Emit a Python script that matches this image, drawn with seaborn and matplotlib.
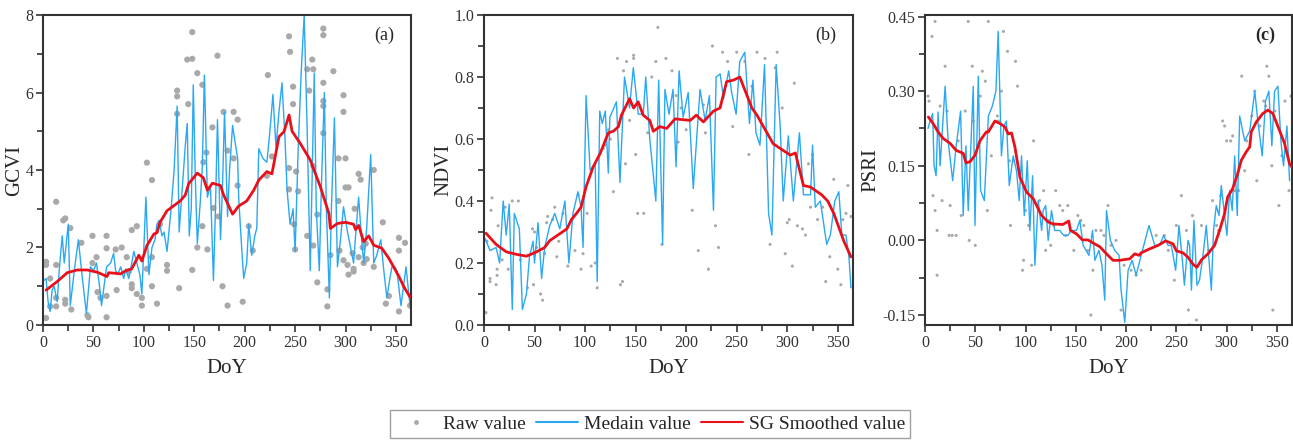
import pandas as pd
import matplotlib
matplotlib.use('Agg')
import matplotlib.pyplot as plt
from matplotlib.ticker import MultipleLocator, FormatStrFormatter
from matplotlib.lines import Line2D
import seaborn as sns

# ---- (a) GCVI ----
gcvi_raw = [(3, 1.63), (3, 1.55), (3, 0.18), (7, 0.48), (7, 1.2), (13, 3.18), (13, 1.55), (13, 0.7),
            (13, 0.48), (20, 2.7), (22, 2.75), (22, 0.65), (22, 0.55), (27, 2.5), (28, 0.4), (38, 2.12),
            (44, 0.25), (45, 0.2), (49, 2.3), (49, 1.6), (53, 1.75), (54, 0.85), (57, 0.7), (63, 2.3),
            (63, 1.98), (63, 0.75), (63, 0.2), (72, 1.95), (73, 0.9), (78, 2.0), (83, 1.75), (85, 1.38),
            (88, 2.45), (88, 1.05), (88, 0.95), (93, 2.55), (93, 0.8), (98, 0.7), (98, 0.5), (103, 4.19),
            (103, 1.45), (108, 3.74), (108, 1.75), (108, 1.0), (113, 0.55), (116, 2.6), (123, 1.55),
            (123, 1.4), (133, 6.05), (133, 5.9), (133, 5.45), (135, 0.95), (143, 6.85), (144, 5.7),
            (148, 7.56), (148, 6.87), (148, 1.42), (153, 6.5), (153, 2.0), (158, 6.2), (158, 2.55),
            (159, 4.2), (162, 4.45), (163, 1.95), (168, 5.1), (169, 3.02), (173, 6.95), (174, 2.8),
            (178, 1.0), (179, 5.5), (183, 4.5), (183, 0.5), (189, 5.5), (189, 4.3), (193, 5.3), (193, 3.6),
            (198, 0.6), (204, 2.55), (208, 1.92), (222, 3.85), (223, 6.45), (227, 4.35), (244, 7.45),
            (245, 7.05), (244, 4.05), (244, 3.5), (248, 5.7), (248, 6.15), (249, 2.6), (250, 1.95),
            (251, 3.96), (253, 3.45), (262, 6.6), (262, 2.3), (264, 6.05), (267, 6.85), (268, 6.6),
            (268, 4.1), (268, 2.05), (272, 1.1), (272, 2.85), (278, 7.65), (278, 7.48), (278, 6.25),
            (278, 5.78), (278, 5.65), (278, 4.95), (282, 0.48), (282, 0.92), (285, 1.8), (288, 6.55),
            (293, 4.3), (293, 3.2), (294, 1.92), (298, 5.93), (298, 5.5), (298, 1.67), (300, 4.3),
            (300, 3.55), (302, 1.55), (303, 1.3), (303, 3.55), (307, 1.85), (308, 1.45), (308, 1.38),
            (309, 3.0), (313, 3.9), (313, 1.75), (315, 3.75), (317, 2.0), (318, 1.6), (320, 2.1),
            (321, 1.7), (328, 4.0), (328, 1.5), (337, 2.65), (340, 0.55), (343, 0.75), (353, 2.25),
            (353, 1.92), (353, 0.35), (359, 2.12), (364, 0.5)]
gcvi_median = [(1, 1.15), (3, 1.2), (5, 0.6), (7, 0.35), (9, 0.9), (11, 1.0), (14, 0.6), (16, 1.4),
               (19, 2.3), (21, 1.6), (23, 2.1), (25, 2.6), (27, 0.5), (31, 1.4), (35, 2.2), (39, 1.2),
               (43, 0.3), (47, 1.5), (50, 1.4), (53, 1.6), (56, 1.0), (58, 0.5), (61, 1.1), (63, 1.5),
               (67, 1.6), (70, 1.85), (72, 1.4), (74, 1.3), (77, 1.5), (80, 1.2), (82, 1.45), (85, 1.2),
               (88, 1.6), (90, 1.9), (93, 1.6), (96, 1.3), (98, 0.8), (100, 2.0), (102, 3.3), (105, 1.3),
               (108, 2.0), (111, 2.2), (113, 2.6), (115, 2.7), (118, 2.3), (120, 2.4), (123, 1.9),
               (127, 3.0), (130, 4.0), (133, 5.65), (135, 2.4), (138, 3.5), (141, 4.6), (143, 5.2),
               (145, 2.3), (147, 3.0), (149, 6.2), (151, 3.8), (153, 2.1), (156, 3.2), (158, 4.1),
               (160, 6.45), (163, 3.3), (166, 3.6), (169, 1.15), (171, 3.0), (173, 5.3), (176, 2.2),
               (178, 3.6), (180, 5.5), (183, 2.8), (185, 4.0), (188, 5.15), (190, 4.8), (193, 4.3),
               (194, 3.3), (197, 2.0), (199, 1.2), (202, 1.6), (204, 2.6), (207, 1.8), (210, 2.3),
               (212, 2.5), (214, 4.55), (218, 4.3), (222, 4.2), (225, 5.0), (228, 5.95), (231, 4.6),
               (234, 5.5), (237, 6.25), (240, 4.8), (242, 3.5), (245, 2.6), (248, 3.0), (250, 1.9),
               (253, 4.5), (256, 6.5), (259, 8.0), (262, 5.0), (265, 1.4), (267, 4.0), (269, 6.5),
               (271, 3.0), (274, 1.4), (276, 3.5), (279, 6.0), (281, 3.0), (284, 0.7), (286, 3.0),
               (289, 5.35), (292, 1.5), (295, 2.2), (298, 3.05), (302, 2.4), (305, 2.0), (308, 1.6),
               (310, 2.3), (313, 3.3), (316, 2.2), (318, 1.6), (321, 2.5), (325, 4.4), (328, 1.6),
               (331, 1.8), (335, 2.2), (338, 1.4), (341, 0.7), (344, 1.2), (346, 1.5), (349, 1.5),
               (351, 1.4), (355, 0.5), (357, 0.9), (360, 1.5), (362, 1.0), (364, 0.5)]
gcvi_sg = [(3, 0.90), (14, 1.12), (24, 1.35), (34, 1.42), (44, 1.42), (54, 1.36), (63.5, 1.25), (65, 1.35),
           (77, 1.32), (82, 1.40), (88, 1.45), (95, 1.80), (98, 1.65), (103, 2.05), (110, 2.35), (113, 2.38),
           (116, 2.65), (123, 2.95), (136, 3.2), (141, 3.35), (144.5, 3.65), (153, 3.92), (159, 3.8),
           (163, 3.48), (168, 3.66), (176, 3.6), (179, 3.36), (188, 2.86), (194, 3.07), (202, 3.2),
           (209, 3.48), (214, 3.74), (222, 3.96), (227, 3.90), (234, 4.86), (239, 4.99), (244, 5.42),
           (247, 5.00), (255, 4.69), (265, 4.26), (275, 3.57), (283.5, 2.88), (285, 2.49), (292, 2.62),
           (300, 2.65), (308, 2.60), (310, 2.46), (313, 2.57), (318, 2.15), (323, 2.30), (328, 2.06),
           (336, 1.98), (343, 1.72), (353, 1.25), (358, 0.98), (364, 0.72)]

# ---- (b) NDVI ----
ndvi_raw = [(2, 0.04), (3, 0.27), (6, 0.14), (6, 0.15), (7, 0.37), (8, 0.41), (12, 0.13), (13, 0.16),
            (13, 0.18), (14, 0.32), (18, 0.21), (21, 0.38), (24, 0.18), (28, 0.40), (34, 0.40), (36, 0.21),
            (43, 0.12), (48, 0.31), (49, 0.13), (50, 0.30), (52, 0.25), (56, 0.10), (58, 0.08), (60, 0.23),
            (62, 0.33), (63, 0.35), (68, 0.34), (70, 0.38), (72, 0.22), (74, 0.27), (78, 0.36), (83, 0.19),
            (87, 0.34), (90, 0.24), (93, 0.42), (96, 0.18), (98, 0.23), (102, 0.36), (106, 0.19),
            (110, 0.20), (112, 0.12), (118, 0.57), (120, 0.58), (123, 0.63), (125, 0.60), (128, 0.43),
            (132, 0.86), (135, 0.13), (137, 0.14), (138, 0.82), (140, 0.52), (141, 0.85), (144, 0.66),
            (148, 0.87), (148, 0.86), (150, 0.55), (152, 0.36), (158, 0.36), (162, 0.62), (166, 0.80),
            (170, 0.85), (172, 0.96), (176, 0.26), (180, 0.86), (186, 0.82), (190, 0.74), (192, 0.59),
            (195, 0.70), (200, 0.63), (206, 0.37), (212, 0.24), (217, 0.71), (219, 0.62), (222, 0.18),
            (226, 0.90), (229, 0.32), (232, 0.25), (236, 0.88), (241, 0.85), (246, 0.64), (250, 0.88),
            (258, 0.85), (262, 0.55), (265, 0.77), (270, 0.88), (278, 0.86), (283, 0.26), (288, 0.83),
            (290, 0.88), (295, 0.70), (298, 0.23), (300, 0.33), (302, 0.34), (305, 0.19), (307, 0.78),
            (310, 0.32), (315, 0.31), (318, 0.29), (321, 0.52), (323, 0.38), (325, 0.55), (330, 0.34),
            (335, 0.38), (338, 0.14), (342, 0.22), (346, 0.47), (350, 0.18), (353, 0.13), (355, 0.34),
            (358, 0.36), (360, 0.45), (362, 0.22), (363, 0.35)]
ndvi_median = [(1, 0.28), (6, 0.24), (12, 0.25), (15.5, 0.20), (19, 0.40), (22, 0.29), (25, 0.39), (28, 0.05),
               (30, 0.36), (35, 0.31), (38, 0.05), (42, 0.10), (45, 0.22), (48.5, 0.27), (50, 0.20),
               (53.5, 0.33), (57, 0.15), (60, 0.25), (65, 0.32), (70, 0.36), (75, 0.31), (80, 0.40),
               (84, 0.20), (88, 0.36), (93, 0.43), (96, 0.38), (98, 0.25), (101, 0.74), (105, 0.50),
               (110, 0.52), (112, 0.14), (114.5, 0.69), (117, 0.65), (120, 0.69), (123, 0.49), (124.5, 0.67),
               (131, 0.72), (134.5, 0.46), (139, 0.80), (144, 0.70), (147.7, 0.83), (152.6, 0.68),
               (157.6, 0.68), (160, 0.80), (164, 0.60), (170, 0.40), (172.8, 0.79), (176.7, 0.26),
               (179, 0.76), (183, 0.68), (187, 0.76), (190, 0.51), (193, 0.82), (197, 0.67), (202, 0.75),
               (207, 0.44), (213.7, 0.76), (218.7, 0.66), (223, 0.74), (227, 0.37), (229.6, 0.80),
               (233.6, 0.81), (237, 0.73), (242, 0.82), (245, 0.75), (249.4, 0.68), (253, 0.85), (258, 0.88),
               (262.6, 0.65), (266, 0.79), (269, 0.62), (273, 0.58), (277.5, 0.84), (281.5, 0.36),
               (284.8, 0.29), (289, 0.84), (293, 0.64), (296, 0.40), (301, 0.61), (306, 0.40), (312, 0.62),
               (316, 0.42), (323, 0.42), (325, 0.58), (327.7, 0.38), (332.7, 0.40), (339, 0.26),
               (342.6, 0.29), (347, 0.40), (351, 0.43), (354, 0.29), (358, 0.29), (361, 0.22), (363, 0.12)]
ndvi_sg = [(2, 0.296), (12, 0.26), (22, 0.236), (32, 0.228), (42, 0.222), (45, 0.226), (52, 0.236), (60, 0.25),
           (65, 0.272), (73, 0.29), (82, 0.31), (86.5, 0.34), (91.5, 0.36), (96, 0.38), (101, 0.446),
           (108, 0.51), (115, 0.554), (123, 0.62), (128, 0.625), (133, 0.64), (136, 0.677), (144, 0.73),
           (148, 0.70), (152.5, 0.72), (157.5, 0.677), (164, 0.66), (167.5, 0.625), (174, 0.64),
           (180.7, 0.634), (189, 0.665), (204, 0.66), (210, 0.677), (217, 0.655), (227, 0.69),
           (233.5, 0.70), (240, 0.785), (246.8, 0.79), (253, 0.80), (265, 0.70), (270, 0.677),
           (286, 0.585), (296, 0.563), (303, 0.548), (308, 0.555), (316, 0.45), (323, 0.445),
           (334, 0.42), (340, 0.40), (346, 0.36), (356, 0.27), (363, 0.22)]

# ---- (c) PSRI ----
psri_raw = [(3, 0.29), (4, 0.28), (7, 0.41), (8, 0.09), (10, 0.44), (10, 0.06), (12, 0.02), (12, -0.07),
            (15, 0.27), (17, 0.08), (20, 0.35), (22, 0.26), (24, 0.01), (25, 0.07), (27, 0.01), (31, 0.01),
            (33, 0.20), (36, 0.05), (40, 0.26), (43, 0.44), (44, 0.00), (47, 0.35), (48, 0.24), (50, -0.01),
            (55, 0.29), (57, 0.34), (60, 0.32), (62, 0.06), (63, 0.44), (66, 0.17), (72, 0.25), (73, 0.24),
            (76, 0.30), (78, 0.42), (82, 0.38), (84, 0.16), (85, 0.03), (88, 0.16), (90, 0.36), (92, 0.31),
            (97, -0.06), (98, -0.04), (100, 0.06), (103, 0.03), (106, -0.05), (108, 0.20), (114, 0.08),
            (118, 0.10), (120, -0.02), (123, 0.04), (125, -0.01), (128, 0.03), (130, 0.10), (134, 0.07),
            (137, 0.06), (140, 0.01), (142, 0.07), (145, 0.02), (148, -0.02), (152, 0.05), (155, 0.04),
            (158, 0.03), (162, -0.02), (165, -0.15), (167, -0.06), (170, 0.02), (175, 0.02), (178, 0.01),
            (182, 0.07), (185, -0.01), (190, 0.0), (195, -0.14), (198, -0.05), (205, -0.06), (210, -0.07),
            (215, -0.06), (230, 0.01), (238, 0.01), (242, -0.02), (248, -0.08), (250, 0.03), (255, 0.09),
            (260, 0.02), (262, -0.14), (263, -0.17), (266, 0.05), (270, -0.16), (275, 0.03), (282, -0.02),
            (286, 0.08), (290, 0.03), (292, 0.02), (294, 0.09), (296, 0.24), (298, 0.23), (300, 0.20),
            (304, 0.20), (306, 0.21), (308, 0.10), (312, 0.10), (315, 0.33), (318, 0.14), (320, 0.20),
            (325, 0.25), (328, 0.30), (330, 0.12), (333, 0.23), (337, 0.28), (339, 0.27), (340, 0.35),
            (342, 0.33), (345, 0.15), (346, -0.14), (348, 0.26), (352, 0.07), (355, 0.17), (358, 0.28),
            (362, 0.10), (364, 0.29)]
psri_median = [(3, 0.225), (5, 0.24), (7.6, 0.255), (9, 0.15), (11, 0.13), (13, 0.258), (15, 0.15), (20, 0.31),
               (23, 0.20), (27.5, 0.12), (31, 0.19), (35.4, 0.26), (38, 0.05), (40.7, 0.19), (43, 0.06),
               (48, 0.31), (49.7, 0.03), (53, 0.33), (55.3, 0.10), (59, 0.08), (63, 0.25), (67, 0.27),
               (70.5, 0.30), (72.8, 0.42), (76, 0.17), (78.5, 0.23), (81, 0.24), (83.8, 0.11), (87.7, 0.17),
               (91, 0.14), (93.7, 0.08), (96, 0.17), (98.7, 0.05), (101.7, 0.16), (104.3, 0.02), (107, 0.13),
               (109.3, -0.05), (112.6, 0.08), (116, 0.02), (117.5, 0.06), (120, 0.07), (122.5, 0.0),
               (125.8, 0.06), (129, 0.02), (134, 0.02), (138, 0.01), (142, 0.01), (145.7, 0.02),
               (150.7, 0.02), (154, 0.04), (157.3, -0.01), (163, -0.03), (166.6, 0.02), (169, -0.04),
               (173, -0.02), (176, -0.05), (178.8, -0.12), (180.5, 0.06), (184.4, 0.0), (188.7, -0.02),
               (193, -0.03), (195, -0.10), (198.7, -0.165), (202, -0.06), (206, -0.04), (210, -0.07),
               (215, -0.03), (222.8, 0.03), (228.5, -0.01), (233.4, -0.01), (237.4, 0.01), (241.7, -0.01),
               (245, -0.01), (249.3, -0.06), (252.6, 0.03), (256, -0.04), (258, -0.09), (261.6, 0.0),
               (263.2, -0.01), (265, -0.10), (267.5, 0.04), (270.5, -0.09), (273, -0.08), (276.5, -0.03),
               (279.8, 0.03), (284.8, -0.10), (287, 0.02), (289.7, 0.07), (292.4, 0.05), (294.7, 0.11),
               (298, 0.05), (300.3, 0.01), (303, 0.10), (305.6, 0.06), (308, 0.17), (310.6, 0.05),
               (313, 0.25), (318, 0.20), (323, 0.22), (328, 0.30), (331, 0.24), (335.4, 0.17), (338.7, 0.28),
               (342, 0.30), (345, 0.19), (347.7, 0.30), (351, 0.31), (354, 0.20), (356.6, 0.15), (360, 0.23),
               (362.6, 0.12)]
psri_sg = [(3.3, 0.248), (8, 0.235), (13, 0.218), (18, 0.205), (25, 0.195), (31, 0.181), (38, 0.175),
           (40.7, 0.156), (44.7, 0.158), (49.7, 0.171), (54.6, 0.20), (61, 0.218), (63, 0.218), (69.5, 0.24),
           (74.5, 0.235), (79.5, 0.228), (82.8, 0.214), (86, 0.216), (89.4, 0.188), (94.4, 0.127),
           (101, 0.097), (107.6, 0.084), (116, 0.05), (122.5, 0.037), (127.5, 0.033), (137, 0.032),
           (143, 0.039), (144.7, 0.020), (150.7, 0.013), (156.6, 0.001), (162, 0.001), (167, -0.005),
           (174, -0.013), (180.5, -0.027), (187, -0.040), (193.7, -0.040), (203.6, -0.037), (208.6, -0.027),
           (213, -0.03), (215, -0.025), (223.5, -0.017), (231.8, -0.01), (239.4, -0.001), (246.7, -0.007),
           (250, -0.021), (256.6, -0.025), (261.6, -0.034), (266.6, -0.048), (270.5, -0.054),
           (275, -0.039), (281.5, -0.027), (288, -0.010), (293, 0.020), (298, 0.054), (301, 0.087),
           (306, 0.104), (311, 0.134), (314.6, 0.161), (319.5, 0.178), (323, 0.188), (324.5, 0.218),
           (329.5, 0.238), (336, 0.255), (341, 0.262), (346, 0.255), (352.6, 0.221), (357.6, 0.195),
           (362.6, 0.154), (365, 0.147)]

raw_color = '#a9a9a9'
med_color = '#2aa8f2'
sg_color = '#e8111a'

sns.set_theme(style='ticks')
plt.rcParams['font.family'] = ['Liberation Serif', 'DejaVu Serif']

fig = plt.figure(figsize=(12.93, 4.43), dpi=100)

panels = [
    dict(rect=[0.0333, 0.2664, 0.2846, 0.6997], raw=gcvi_raw, med=gcvi_median, sg=gcvi_sg,
         ylabel='GCVI', tag='(a)', ylim=(0, 8), major=2, minor=1, fmt='%d', dot=20),
    dict(rect=[0.3743, 0.2664, 0.2854, 0.6997], raw=ndvi_raw, med=ndvi_median, sg=ndvi_sg,
         ylabel='NDVI', tag='(b)', ylim=(0, 1), major=0.2, minor=0.1, fmt='%.1f', dot=5),
    dict(rect=[0.7154, 0.2664, 0.2838, 0.6997], raw=psri_raw, med=psri_median, sg=psri_sg,
         ylabel='PSRI', tag='(c)', ylim=(-0.17, 0.453), major=0.15, minor=0.075, fmt='%.2f', dot=5),
]

for p in panels:
    ax = fig.add_axes(p['rect'])
    raw = pd.DataFrame(p['raw'], columns=['DoY', 'value'])
    med = pd.DataFrame(p['med'], columns=['DoY', 'value'])
    sg = pd.DataFrame(p['sg'], columns=['DoY', 'value'])
    sns.scatterplot(data=raw, x='DoY', y='value', ax=ax, color=raw_color, s=p['dot'],
                    edgecolor='none', legend=False, zorder=1)
    sns.lineplot(data=med, x='DoY', y='value', ax=ax, color=med_color, lw=1.0,
                 estimator=None, legend=False, zorder=2)
    sns.lineplot(data=sg, x='DoY', y='value', ax=ax, color=sg_color, lw=2.0,
                 estimator=None, legend=False, zorder=3)
    ax.set_xlim(0, 365)
    ax.set_ylim(*p['ylim'])
    if p['tag'] == '(c)':
        ax.set_yticks([-0.15, 0.0, 0.15, 0.30, 0.45])
        ax.yaxis.set_minor_locator(MultipleLocator(0.075))
    else:
        ax.yaxis.set_major_locator(MultipleLocator(p['major']))
        ax.yaxis.set_minor_locator(MultipleLocator(p['minor']))
    ax.yaxis.set_major_formatter(FormatStrFormatter(p['fmt']))
    ax.xaxis.set_major_locator(MultipleLocator(50))
    ax.xaxis.set_minor_locator(MultipleLocator(25))
    ax.tick_params(axis='both', which='major', direction='out', length=5, width=1.2, pad=2,
                   labelsize=11.5, colors='#333333', top=False, right=False)
    ax.tick_params(axis='both', which='minor', direction='out', length=4, width=1.2,
                   top=False, right=False, colors='#333333')
    for sp in ax.spines.values():
        sp.set_visible(True)
        sp.set_color('#333333')
        sp.set_linewidth(1.5)
    ax.set_xlabel('DoY', fontsize=15, labelpad=6)
    ax.set_ylabel(p['ylabel'], fontsize=15, labelpad=1)
    ax.text(0.955, 0.935, p['tag'], transform=ax.transAxes, ha='right', va='center', fontsize=13,
            fontweight='bold' if p['tag'] == '(c)' else 'normal')

handles = [
    Line2D([], [], marker='o', ls='none', color=raw_color, markersize=2.5),
    Line2D([], [], color=med_color, lw=1.5),
    Line2D([], [], color=sg_color, lw=1.5),
]
leg = fig.legend(handles, ['Raw value', 'Medain value', 'SG Smoothed value'],
                 loc='center', bbox_to_anchor=(650 / 1293, 1 - 424 / 443), ncol=3,
                 frameon=True, fancybox=False, fontsize=14, handlelength=2.2,
                 columnspacing=0.5, handletextpad=0.3, borderpad=0.25)
leg.get_frame().set_edgecolor('#888888')
leg.get_frame().set_linewidth(1.0)

fig.savefig('out.png', dpi=100)
